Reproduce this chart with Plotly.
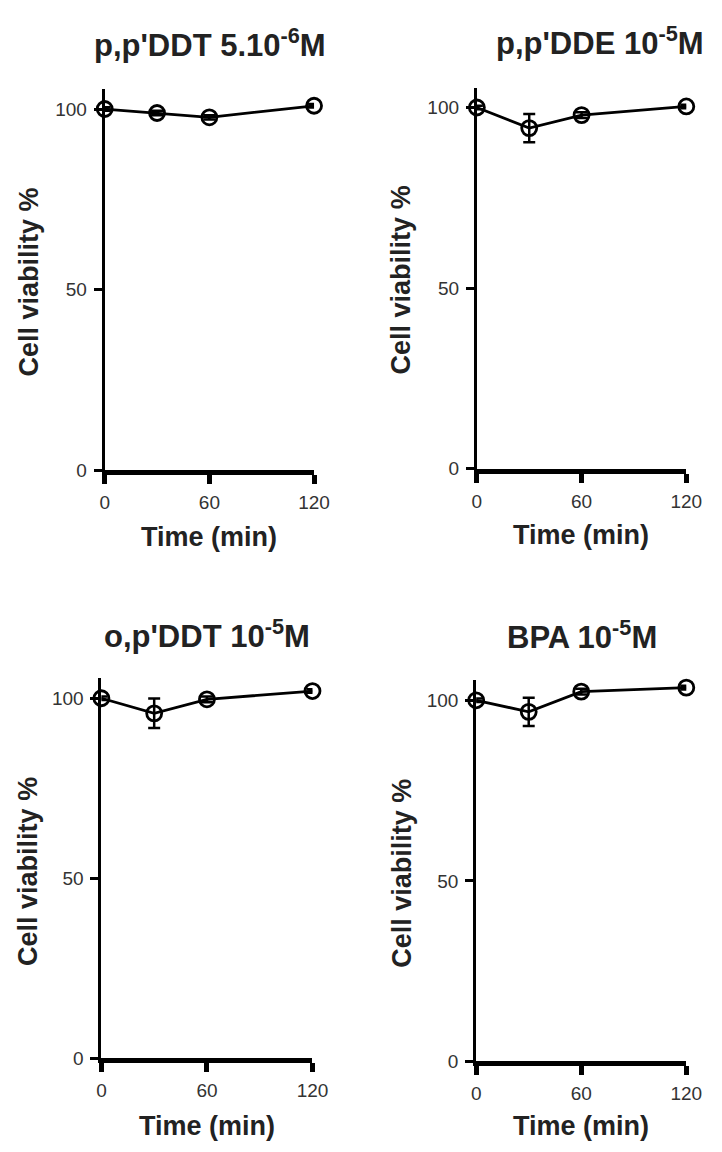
import plotly.graph_objects as go

W, H = 722, 1152

time_min = [0, 30, 60, 120]

titles = ["p,p'DDT 5.10<sup>-6</sup>M", "p,p'DDE 10<sup>-5</sup>M",
          "o,p'DDT 10<sup>-5</sup>M", "BPA 10<sup>-5</sup>M"]

viab_ppDDT = [100.0, 98.9, 97.7, 100.9]
sem_ppDDT = [0.5, 0.6, 0.6, 0.5]
viab_ppDDE = [100.0, 94.3, 97.9, 100.3]
sem_ppDDE = [0.5, 3.9, 0.8, 0.5]
viab_opDDT = [100.0, 95.8, 99.7, 102.0]
sem_opDDT = [0.5, 4.1, 0.8, 0.5]
viab_BPA = [100.0, 96.8, 102.4, 103.5]
sem_BPA = [0.5, 3.9, 0.8, 0.5]

series = [(viab_ppDDT, sem_ppDDT), (viab_ppDDE, sem_ppDDE),
          (viab_opDDT, sem_opDDT), (viab_BPA, sem_BPA)]

x_ticks = [0, 60, 120]
y_ticks = [0, 50, 100]

# pixel geometry of each panel: (x at 0, x at 120, y px at 0, y px at top)
panels = [
    (102.7, 318.3, 475.0, 90.0),
    (486.0, 701.7, 473.3, 88.5),
    (99.3, 316.7, 1068.3, 685.0),
    (485.3, 701.7, 1071.7, 687.0),
]
y_top = 105.5

title_pos = [(211, 43), (613, 41), (208, 640), (594, 641)]
ylab_pos = [(25, 285), (408, 283), (23, 880), (408, 882)]
xlab_pos = [(210, 542), (593, 540), (208, 1137), (593, 1137)]

FONT = "Liberation Sans, Arial, sans-serif"
fig = go.Figure()
annotations = []
for i, ((x0, x1, yb, yt), (vals, errs)) in enumerate(zip(panels, series)):
    n = "" if i == 0 else str(i + 1)
    fig.add_trace(go.Scatter(
        x=time_min, y=vals,
        error_y=dict(type="data", array=errs, visible=True, color="black",
                     thickness=2.5, width=6),
        mode="lines+markers",
        line=dict(color="black", width=2.8),
        marker=dict(symbol="circle-open", size=15, color="black",
                    line=dict(width=2.8, color="black")),
        cliponaxis=False, showlegend=False,
        xaxis="x" + n, yaxis="y" + n,
    ))
    fig.layout["xaxis" + n] = dict(
        domain=[x0 / W, x1 / W], range=[0, 120], anchor="y" + n,
        tickvals=x_ticks, ticks="outside", ticklen=9, tickwidth=5,
        tickcolor="black", showline=True, linecolor="black", linewidth=5,
        showgrid=False, zeroline=False,
        tickfont=dict(family=FONT, size=19, color="#333"),
        ticklabelstandoff=2,
    )
    fig.layout["yaxis" + n] = dict(
        domain=[1 - yb / H, 1 - yt / H], range=[0, y_top], anchor="x" + n,
        tickvals=y_ticks, ticks="outside", ticklen=8, tickwidth=2.5,
        tickcolor="black", showline=True, linecolor="black", linewidth=3,
        showgrid=False, zeroline=False,
        tickfont=dict(family=FONT, size=19, color="#333"),
        ticklabelstandoff=3,
    )
    tx, ty = title_pos[i]
    annotations.append(dict(text="<b>" + titles[i] + "</b>", x=tx / W, y=1 - ty / H,
                            xref="paper", yref="paper", xanchor="center", yanchor="middle",
                            showarrow=False, font=dict(family=FONT, size=31, color="#222")))
    lx, ly = ylab_pos[i]
    annotations.append(dict(text="<b>Cell viability %</b>", x=lx / W, y=1 - ly / H,
                            xref="paper", yref="paper", xanchor="center", yanchor="middle",
                            textangle=-90, showarrow=False,
                            font=dict(family=FONT, size=27, color="#222")))
    bx, by = xlab_pos[i]
    annotations.append(dict(text="<b>Time (min)</b>", x=bx / W, y=1 - by / H,
                            xref="paper", yref="paper", xanchor="center", yanchor="middle",
                            showarrow=False, font=dict(family=FONT, size=27, color="#222")))

fig.update_layout(
    width=W, height=H, margin=dict(l=0, r=0, t=0, b=0),
    paper_bgcolor="white", plot_bgcolor="white",
    annotations=annotations,
)
fig.write_html("out.html", config={"displayModeBar": False},
               post_script="document.body.style.margin='0';")
